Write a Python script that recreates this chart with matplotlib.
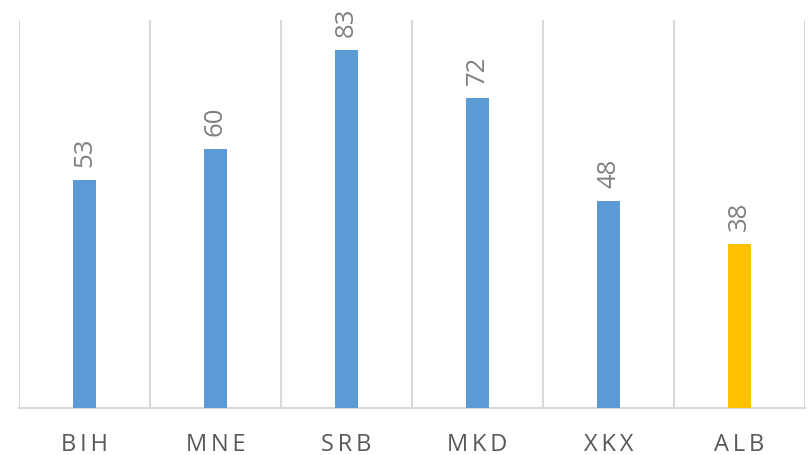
import matplotlib
matplotlib.use("Agg")
import matplotlib.pyplot as plt
import numpy as np

countries = ['BIH', 'MNE', 'SRB', 'MKD', 'XKX', 'ALB']
values = [53, 60, 83, 72, 48, 38]
colors = ['#5B9BD5', '#5B9BD5', '#5B9BD5', '#5B9BD5', '#5B9BD5', '#FFC000']

plt.rcParams['font.family'] = ['Open Sans', 'DejaVu Sans']

fig = plt.figure(figsize=(8.08, 4.56), dpi=100)
ax = fig.add_axes([0.0235, 0.103, 0.9728, 0.851])

x = np.arange(len(countries))
bars = ax.bar(x, values, width=0.18, color=colors, zorder=3)

for xi, v in zip(x, values):
    ax.annotate(str(v), (xi, v), xytext=(0, 10), textcoords='offset points',
                rotation=90, ha='center', va='bottom', fontsize=18.5, color='#808080')

# vertical lines between the categories
for b in np.arange(-0.5, len(countries), 1.0):
    ax.axvline(b, color='#d9d9d9', linewidth=1.5, zorder=1)

ax.set_xlim(-0.5, len(countries) - 0.5)
ax.set_ylim(0, 90)
ax.set_yticks([])
ax.set_xticks(x)
ax.set_xticklabels(['\u2009'.join(c) for c in countries], fontsize=17, color='#595959')
ax.tick_params(axis='x', length=0, pad=17)
for s in ['top', 'left', 'right']:
    ax.spines[s].set_visible(False)
ax.spines['bottom'].set_color('#d9d9d9')
ax.spines['bottom'].set_linewidth(1.5)

fig.savefig('out.png', dpi=100)
